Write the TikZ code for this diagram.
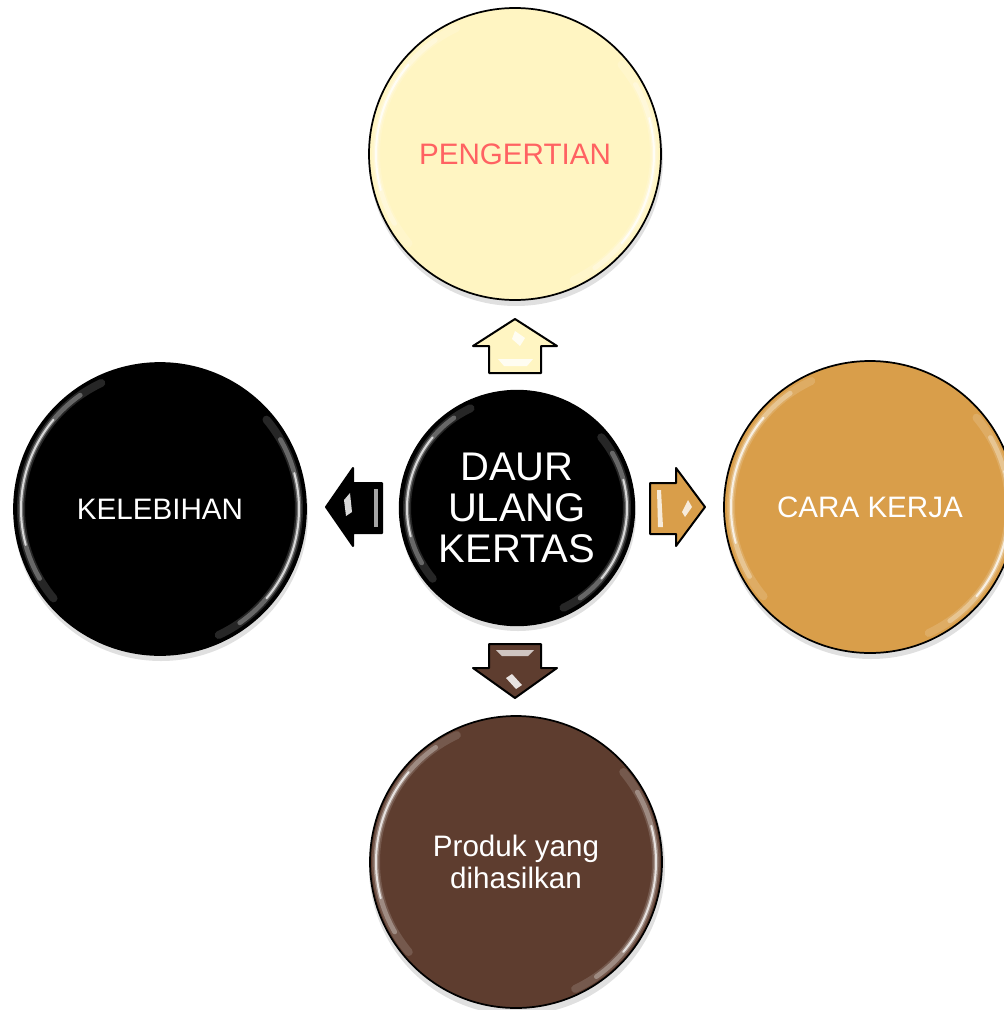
\documentclass[tikz,border=0pt]{standalone}
\usepackage{fontspec}
\setmainfont{Liberation Sans}
\usetikzlibrary{calc}
\definecolor{cyel}{HTML}{FFF5C2}
\definecolor{cgold}{HTML}{D99E4A}
\definecolor{cbrown}{HTML}{5E3D2F}
\definecolor{cpink}{HTML}{FF6262}
\tikzset{
  bubble/.style={circle, draw=black, line width=1.3pt, minimum size=219pt, inner sep=0pt,
     align=center, font=\fontsize{22.2}{23.5}\selectfont},
  hub/.style={circle, draw=black, line width=1.3pt, minimum size=176pt, inner sep=0pt,
     align=center, text=white, font=\fontsize{30}{30.8}\selectfont},
  blockarrow/.style={draw=black, line width=1.5pt, line join=round},
  shade/.style={fill=black, opacity=0.12}
}
\newcommand{\glossarc}[5]{% node, radius, start, end, style
  \draw[#5] ($(#1.center)+(#3:#2 and -#2)$) arc[start angle=#3, end angle=#4, x radius=#2, y radius=-#2];
}
\begin{document}
\begin{tikzpicture}[x=0.75pt,y=-0.75pt]
\useasboundingbox (0,0) rectangle (1003,1010);
\fill[white] (0,0) rectangle (1003,1010);
% soft shadows
\foreach \cx/\cy/\r in {515/154/146, 160/509/146, 870/507/146, 516/862/147, 517/508/117}{
  \fill[shade] (\cx+1,\cy+5) circle (\r+1);
}
% nodes
\node[bubble, fill=cyel, text=cpink] (top) at (515,154) {PENGERTIAN};
\node[bubble, fill=black, text=white] (left) at (160,509) {KELEBIHAN};
\node[bubble, fill=cgold, text=white] (right) at (870,507) {CARA KERJA};
\node[bubble, fill=cbrown, text=white] (bottom) at (516,862) {Produk yang\\dihasilkan};
\node[hub, fill=black] (hub) at (517,508) {DAUR\\ULANG\\KERTAS};
% gloss highlights
\foreach \n/\r in {top/139, left/139, right/139, bottom/140, hub/110}{
  \glossarc{\n}{\r}{115}{220}{white, line width=6pt, opacity=0.15, line cap=round}
  \glossarc{\n}{\r}{125}{210}{white, line width=3.5pt, opacity=0.3, line cap=round}
  \glossarc{\n}{\r}{140}{195}{white, line width=1.5pt, opacity=0.75, line cap=round}
  \glossarc{\n}{\r}{295}{400}{white, line width=6pt, opacity=0.15, line cap=round}
  \glossarc{\n}{\r}{305}{390}{white, line width=3.5pt, opacity=0.3, line cap=round}
  \glossarc{\n}{\r}{320}{375}{white, line width=1.5pt, opacity=0.75, line cap=round}
}
% block arrows
% up
\draw[blockarrow, fill=cyel] (489,373) -- (489,346) -- (473,346) -- (515,319) -- (557,346) -- (541,346) -- (541,373) -- cycle;
\fill[white, opacity=0.8] (504,366) -- (527,366) -- (533,359) -- (498,359) -- cycle;
\fill[white, opacity=0.8] (515,331) -- (525,338) -- (520,346) -- (512,339) -- cycle;
% left
\draw[blockarrow, fill=black] (382,483) -- (353,483) -- (353,468) -- (326,507) -- (353,546) -- (353,533) -- (382,533) -- cycle;
\fill[gray!70] (374,489) -- (378,489) -- (378,527) -- (374,527) -- cycle;
\fill[white, opacity=0.85] (344,500) -- (350,493) -- (352,512) -- (346,516) -- cycle;
% right
\draw[blockarrow, fill=cgold] (650,483) -- (676,483) -- (676,468) -- (705,507) -- (676,546) -- (676,534) -- (650,534) -- cycle;
\fill[white, opacity=0.8] (657,490) -- (661,490) -- (663,527) -- (658,527) -- cycle;
\fill[white, opacity=0.8] (688,500) -- (692,507) -- (685,517) -- (682,512) -- cycle;
% down
\draw[blockarrow, fill=cbrown] (489,644) -- (541,644) -- (541,668) -- (557,668) -- (515,698) -- (473,668) -- (489,668) -- cycle;
\fill[white!70!cbrown] (496,650) -- (534,650) -- (528,656) -- (502,656) -- cycle;
\fill[white, opacity=0.85] (506,678) -- (512,674) -- (522,685) -- (516,689) -- cycle;
\end{tikzpicture}
\end{document}
